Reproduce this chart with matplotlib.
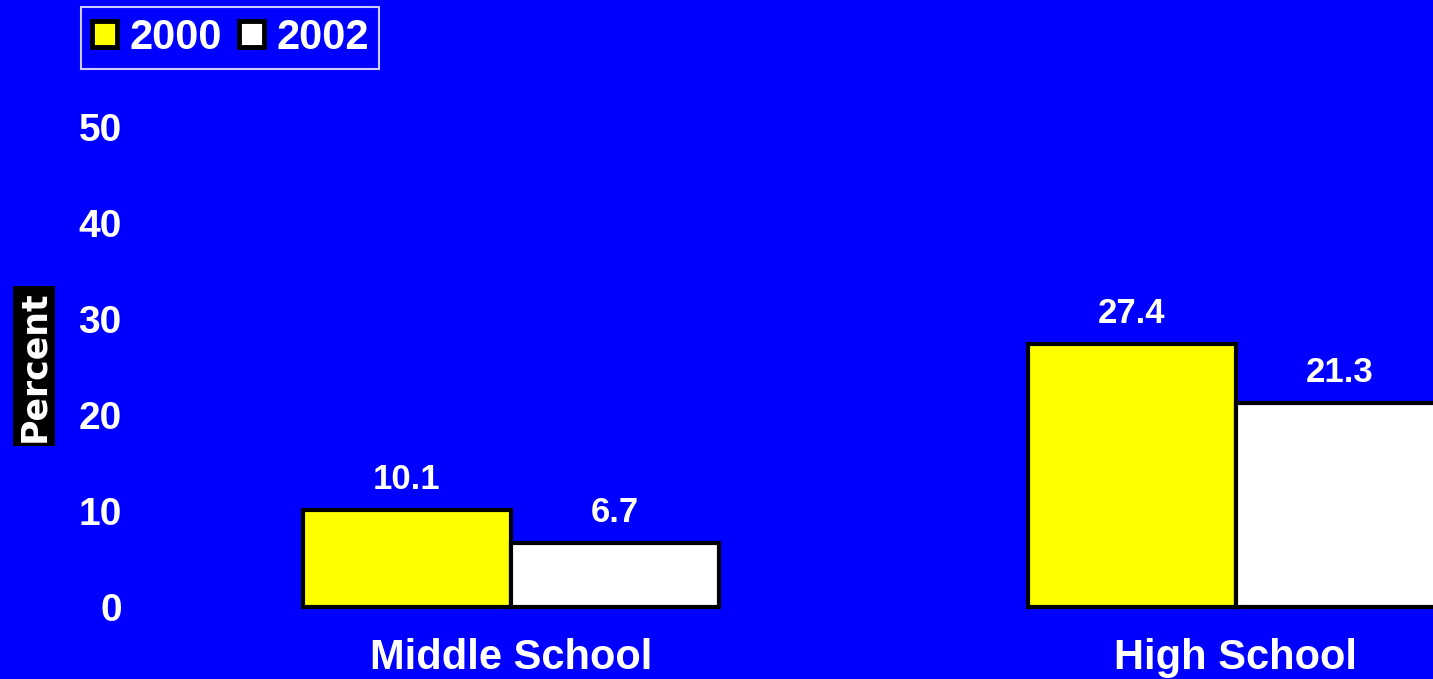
import matplotlib
matplotlib.use("Agg")
import matplotlib.pyplot as plt
from matplotlib.patches import Patch
import numpy as np

categories = ["Middle School", "High School"]
series_names = ["2000", "2002"]
values_2000 = [10.1, 27.4]
values_2002 = [6.7, 21.3]
yticks = [0, 10, 20, 30, 40, 50]

BLUE = "#0000FF"
W, H = 1433, 679
fig = plt.figure(figsize=(W / 100, H / 100), dpi=100, facecolor=BLUE)

left_px, right_px = 130, 1433
bottom_px, top_px = 607, 127
ax = fig.add_axes([left_px / W, (H - bottom_px) / H, (right_px - left_px) / W, (bottom_px - top_px) / H])
ax.set_facecolor(BLUE)

scale = 725.0  # pixels per category unit
xmin = -(511 - left_px) / scale
ax.set_xlim(xmin, xmin + (right_px - left_px) / scale)
ax.set_ylim(0, 50)

x = np.arange(len(categories))
w = 0.287
b1 = ax.bar(x - w / 2, values_2000, width=w, color="#FFFF00", edgecolor="black", linewidth=3, clip_on=False, zorder=3)
b2 = ax.bar(x + w / 2, values_2002, width=w, color="white", edgecolor="black", linewidth=3, clip_on=False, zorder=3)

font = "Liberation Sans"
for bars, vals in ((b1, values_2000), (b2, values_2002)):
    for rect, v in zip(bars, vals):
        ax.annotate(f"{v:.1f}", (rect.get_x() + rect.get_width() / 2, rect.get_height()),
                    xytext=(0, 15), textcoords="offset points", ha="center", va="baseline",
                    fontsize=25, fontweight="bold", color="white", family=font)

ax.set_xticks(x)
ax.set_xticklabels(categories, fontsize=30, fontweight="bold", color="white", family=font)
ax.set_yticks(yticks)
ax.set_yticklabels([str(t) for t in yticks], fontsize=28, fontweight="bold", color="white", family=font)
ax.tick_params(axis="x", length=0, pad=22)
ax.tick_params(axis="y", length=0, pad=6)
for s in ax.spines.values():
    s.set_visible(False)

fig.text(34 / W, 1 - 366 / H, "Percent", rotation=90, ha="center", va="center",
         fontsize=25, fontweight="bold", color="white", family="DejaVu Sans",
         bbox=dict(facecolor="black", edgecolor="none", pad=3))

handles = [Patch(facecolor="#FFFF00", edgecolor="black", linewidth=3.5),
           Patch(facecolor="white", edgecolor="black", linewidth=3.5)]
leg = fig.legend(handles, series_names, loc="upper left", bbox_to_anchor=(81 / W, 1 - 7 / H),
                 ncol=2, frameon=True, fancybox=False, facecolor=BLUE, edgecolor="white",
                 handlelength=0.6, handleheight=0.6, handletextpad=0.3, columnspacing=0.4,
                 borderpad=0.26, borderaxespad=0,
                 prop=dict(family=font, weight="bold", size=30))
leg.get_frame().set_linewidth(1.5)
for t in leg.get_texts():
    t.set_color("white")

fig.savefig("out.png", dpi=100, facecolor=BLUE)
